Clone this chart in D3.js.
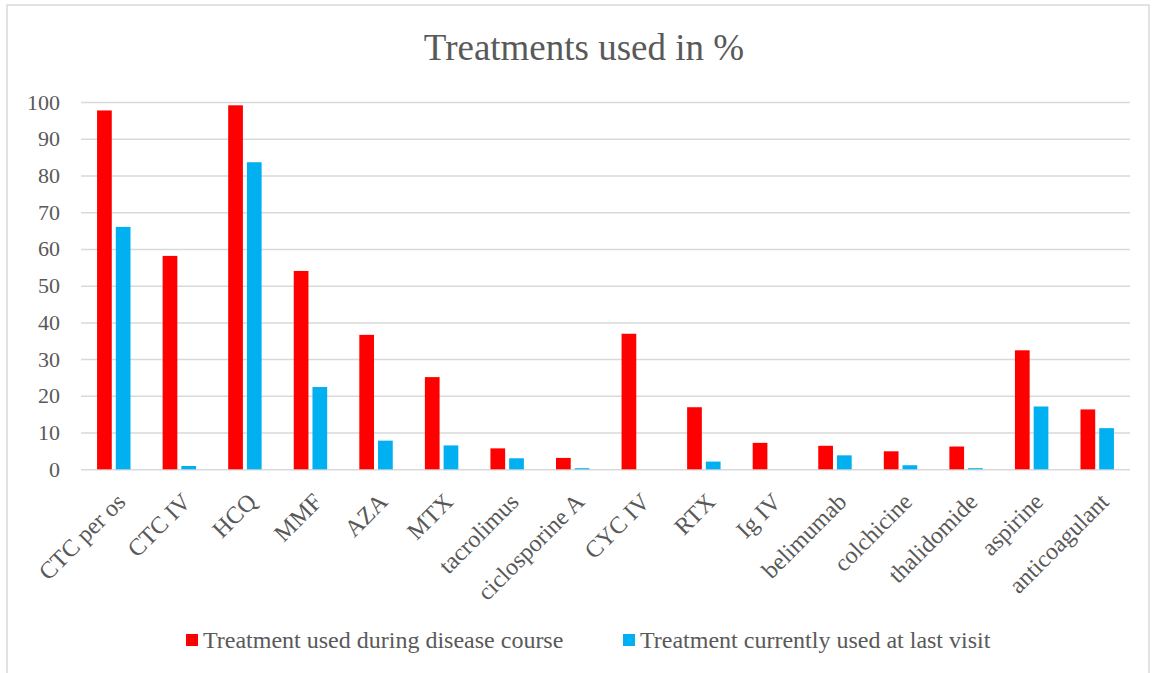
<!DOCTYPE html>
<html><head><meta charset="utf-8">
<script src="https://cdn.jsdelivr.net/npm/d3@7"></script>
<style>body{margin:0;background:#fff}svg{display:block}</style>
</head><body>
<script>
const categories = ["CTC per os","CTC IV","HCQ","MMF","AZA","MTX","tacrolimus","ciclosporine A","CYC IV","RTX","Ig IV","belimumab","colchicine","thalidomide","aspirine","anticoagulant"];
const duringCourse = [97.7,58.1,99.1,54.0,36.6,25.1,5.7,3.1,36.9,16.9,7.2,6.4,4.9,6.2,32.4,16.3];
const lastVisit = [66.0,0.9,83.6,22.4,7.8,6.5,3.0,0.3,0,2.1,0,3.8,1.1,0.3,17.1,11.2];
const seriesNames = ["Treatment used during disease course","Treatment currently used at last visit"];
const yTicks = [0,10,20,30,40,50,60,70,80,90,100];
const title = "Treatments used in %";

const W=1152,H=673;
const colors=["#FF0000","#00B0F0"];
const font="'Liberation Serif','Times New Roman',serif";
const txt="#595959";
const svg=d3.select("body").append("svg").attr("width",W).attr("height",H);
svg.append("rect").attr("x",7).attr("y",5).attr("width",1142).attr("height",700)
  .attr("fill","#fff").attr("stroke","#D9D9D9").attr("stroke-width",1.5);

const L=81,R=1130,T=102,B=469.3;
const x0=d3.scaleBand().domain(categories).range([L,R]);
const bw=x0.bandwidth();
const x1=d3.scaleBand().domain([0,1]).range([bw*0.245,bw*0.755]).paddingInner(0.214);
const y=d3.scaleLinear().domain([0,100]).range([B,T]);

svg.append("text").attr("x",584).attr("y",60).attr("text-anchor","middle")
  .attr("font-family",font).attr("font-size",37).attr("fill",txt).text(title);

const yAxis=svg.append("g").attr("transform",`translate(${L},0)`)
  .call(d3.axisLeft(y).tickValues(yTicks).tickSize(-(R-L)).tickPadding(21));
yAxis.select(".domain").remove();
yAxis.selectAll(".tick line").attr("stroke","#D9D9D9").attr("stroke-width",1.5);
yAxis.selectAll(".tick text").attr("font-family",font).attr("font-size",22).attr("fill",txt);

const series=[duringCourse,lastVisit];
series.forEach((vals,si)=>{
  svg.append("g").selectAll("rect").data(vals).join("rect")
    .attr("x",(d,i)=>x0(categories[i])+x1(si))
    .attr("width",x1.bandwidth())
    .attr("y",d=>y(d)).attr("height",d=>B-y(d))
    .attr("fill",colors[si]);
});

svg.append("g").selectAll("text").data(categories).join("text")
  .attr("transform",d=>`translate(${x0(d)+bw/2+13},${B+34}) rotate(-45)`)
  .attr("text-anchor","end").attr("font-family",font).attr("font-size",24).attr("fill",txt)
  .text(d=>d);

const legX=[186,623];
seriesNames.forEach((n,i)=>{
  svg.append("rect").attr("x",legX[i]).attr("y",634).attr("width",12).attr("height",12).attr("fill",colors[i]);
  svg.append("text").attr("x",legX[i]+17).attr("y",648).attr("font-family",font).attr("font-size",24)
    .attr("fill",txt).text(n);
});
</script>
</body></html>
